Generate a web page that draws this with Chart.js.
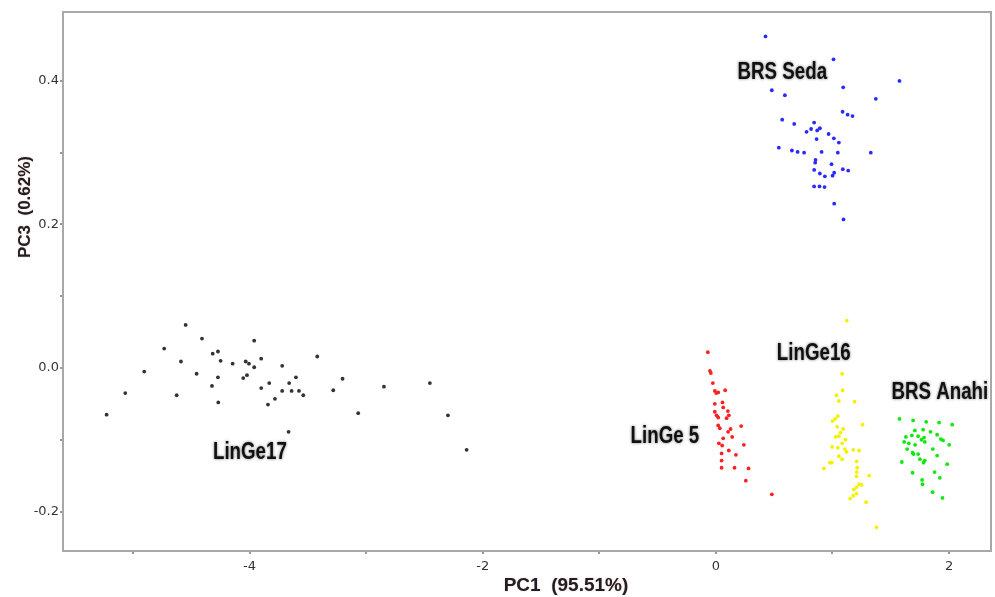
<!DOCTYPE html>
<html>
<head>
<meta charset="utf-8">
<script src="https://cdn.jsdelivr.net/npm/chart.js@4.4.1/dist/chart.umd.min.js"></script>
<style>
  html, body { margin: 0; padding: 0; background: #fff; }
  #pca { display: block; }
</style>
</head>
<body>
<canvas id="pca" width="995" height="597"></canvas>
<script>
// --- DATA (PC1, PC3 scores) ---
const linGe17 = [
  [-4.548, 0.060], [-4.408, 0.041], [-4.732, 0.027], [-3.960, 0.038], [-4.316, 0.020],
  [-4.271, 0.023], [-4.588, 0.009], [-4.248, 0.010], [-4.145, 0.006], [-4.033, 0.009],
  [-4.005, 0.006], [-3.960, 0.001], [-3.900, 0.013], [-3.720, 0.003], [-3.419, 0.016],
  [-4.903, -0.005], [-4.454, -0.008], [-4.271, -0.013], [-4.054, -0.014], [-4.022, -0.010],
  [-4.322, -0.025], [-3.900, -0.028], [-3.831, -0.021], [-3.660, -0.021], [-3.602, -0.013],
  [-3.720, -0.032], [-3.639, -0.032], [-3.576, -0.032], [-3.539, -0.038], [-3.782, -0.043],
  [-3.842, -0.051], [-3.282, -0.031], [-3.202, -0.015], [-2.847, -0.026], [-2.453, -0.021],
  [-5.066, -0.035], [-4.625, -0.038], [-4.268, -0.048], [-5.226, -0.065], [-3.068, -0.063],
  [-2.298, -0.066], [-3.665, -0.089], [-2.138, -0.114]
];
const linGe5 = [
  [-0.069, 0.022], [-0.051, -0.004], [-0.043, -0.007], [-0.026, -0.021], [-0.009, -0.032],
  [0.003, -0.035], [0.020, -0.034], [0.080, -0.031], [-0.009, -0.050], [0.057, -0.048],
  [-0.009, -0.061], [0.006, -0.066], [0.020, -0.069], [0.063, -0.055], [0.103, -0.060],
  [0.111, -0.066], [0.092, -0.070], [0.020, -0.080], [0.034, -0.084], [0.126, -0.085],
  [0.105, -0.089], [0.217, -0.081], [0.063, -0.098], [0.140, -0.096], [0.026, -0.105],
  [0.054, -0.108], [0.240, -0.107], [0.049, -0.119], [0.111, -0.115], [0.172, -0.121],
  [0.049, -0.129], [0.049, -0.139], [0.160, -0.139], [0.280, -0.140], [0.257, -0.157],
  [0.480, -0.176]
];
const linGe16 = [
  [1.123, 0.066], [1.083, -0.008], [1.087, -0.031], [1.035, -0.038], [1.055, -0.046],
  [1.190, -0.047], [1.046, -0.067], [1.023, -0.071], [1.001, -0.074], [1.258, -0.079],
  [1.040, -0.082], [1.092, -0.085], [1.069, -0.090], [1.055, -0.095], [1.027, -0.096],
  [1.112, -0.100], [1.083, -0.105], [0.997, -0.110], [1.046, -0.111], [1.106, -0.113],
  [1.121, -0.117], [1.178, -0.114], [1.229, -0.115], [1.055, -0.123], [1.083, -0.127],
  [0.995, -0.132], [0.978, -0.132], [1.207, -0.130], [1.212, -0.139], [1.209, -0.145],
  [1.207, -0.151], [0.926, -0.140], [1.315, -0.150], [1.229, -0.162], [1.250, -0.163],
  [1.207, -0.166], [1.184, -0.169], [1.207, -0.175], [1.178, -0.178], [1.152, -0.182],
  [1.289, -0.187], [1.378, -0.222]
];
const brsAnahi = [
  [1.575, -0.071], [1.692, -0.073], [1.804, -0.075], [1.915, -0.076], [2.027, -0.079],
  [1.707, -0.087], [1.778, -0.086], [1.841, -0.089], [1.898, -0.093], [1.630, -0.096],
  [1.681, -0.094], [1.735, -0.095], [1.786, -0.097], [1.764, -0.100], [1.792, -0.103],
  [1.930, -0.099], [1.949, -0.101], [1.615, -0.103], [1.655, -0.105], [1.709, -0.107],
  [2.001, -0.107], [1.641, -0.113], [1.861, -0.113], [1.687, -0.118], [1.696, -0.120],
  [1.735, -0.120], [1.898, -0.122], [1.750, -0.127], [1.792, -0.129], [1.781, -0.132],
  [1.595, -0.131], [1.984, -0.134], [1.687, -0.146], [1.876, -0.145], [1.921, -0.153],
  [1.769, -0.156], [1.773, -0.162], [1.859, -0.173], [1.944, -0.181]
];
const brsSeda = [
  [0.426, 0.462], [1.009, 0.430], [1.575, 0.400], [0.480, 0.387], [0.592, 0.380],
  [1.092, 0.391], [1.372, 0.375], [1.087, 0.357], [1.130, 0.353], [1.172, 0.351],
  [0.569, 0.346], [0.672, 0.340], [0.843, 0.342], [0.778, 0.329], [0.817, 0.333],
  [0.869, 0.331], [0.892, 0.334], [0.967, 0.326], [1.012, 0.320], [1.055, 0.314],
  [0.864, 0.319], [0.540, 0.307], [0.652, 0.303], [0.701, 0.301], [0.757, 0.300],
  [0.907, 0.301], [1.046, 0.300], [1.329, 0.300], [0.855, 0.290], [0.852, 0.286],
  [0.992, 0.284], [0.843, 0.276], [1.089, 0.277], [1.135, 0.275], [0.892, 0.271],
  [0.935, 0.267], [1.001, 0.268], [1.015, 0.272], [0.843, 0.253], [0.889, 0.253],
  [0.932, 0.252], [1.015, 0.229], [1.095, 0.207]
];

// group names and where their labels sit (PC1, PC3)
const groupNames = ['LinGe17', 'LinGe 5', 'LinGe16', 'BRS Anahi', 'BRS Seda'];
const labelAnchors = [[-3.997, -0.118], [-0.437, -0.095], [0.840, 0.020], [1.921, -0.034], [0.570, 0.412]];

const xTitle = 'PC1  (95.51%)';
const yTitle = 'PC3  (0.62%)';

// --- CHART ---
const toPts = arr => arr.map(p => ({ x: p[0], y: p[1] }));
const groups = [
  { data: linGe17, color: '#333333' },
  { data: linGe5, color: '#ff2020' },
  { data: linGe16, color: '#f2f200' },
  { data: brsAnahi, color: '#10e810' },
  { data: brsSeda, color: '#2a2aff' }
];

// frame around plot area + group labels + axis titles
const decorations = {
  id: 'decorations',
  afterDraw(chart) {
    const { ctx, chartArea: a, scales } = chart;
    ctx.save();
    ctx.strokeStyle = '#a8a8a8';
    ctx.lineWidth = 2;
    ctx.strokeRect(a.left, a.top, a.right - a.left, a.bottom - a.top);

    // cluster labels
    ctx.textAlign = 'center';
    ctx.textBaseline = 'middle';
    ctx.font = 'bold 24px "Liberation Sans", Arial, sans-serif';
    groupNames.forEach((name, i) => {
      const px = scales.x.getPixelForValue(labelAnchors[i][0]);
      const py = scales.y.getPixelForValue(labelAnchors[i][1]);
      ctx.save();
      ctx.translate(px, py);
      ctx.scale(0.78, 1);
      ctx.shadowColor = 'rgba(0,0,0,0.55)';
      ctx.shadowBlur = 3;
      ctx.fillStyle = '#111';
      ctx.fillText(name, 0, 0);
      ctx.restore();
    });

    // axis titles
    ctx.fillStyle = '#1d1d2e';
    ctx.shadowColor = 'rgba(210,120,40,0.55)';
    ctx.shadowBlur = 1.5;
    ctx.font = 'bold 19px "Liberation Sans", Arial, sans-serif';
    ctx.fillText(xTitle, a.left + 503, 586);
    ctx.save();
    ctx.translate(25, a.top + 195);
    ctx.rotate(-Math.PI / 2);
    ctx.font = 'bold 17px "Liberation Sans", Arial, sans-serif';
    ctx.fillText(yTitle, 0, 0);
    ctx.restore();
    ctx.restore();
  }
};

const ctx = document.getElementById('pca').getContext('2d');
new Chart(ctx, {
  type: 'scatter',
  data: {
    datasets: groups.map((g, i) => ({
      label: groupNames[i],
      data: toPts(g.data),
      backgroundColor: g.color,
      borderWidth: 0,
      pointRadius: 1.9,
      pointHoverRadius: 1.9
    }))
  },
  options: {
    responsive: false,
    animation: false,
    layout: { padding: { top: 12, right: 4, left: 0, bottom: 0 } },
    plugins: { legend: { display: false }, tooltip: { enabled: false } },
    scales: {
      x: {
        type: 'linear',
        min: -5.6,
        max: 2.36,
        afterFit: s => { s.height = 46; },
        border: { display: false },
        grid: { drawOnChartArea: false, drawTicks: true, tickLength: 3, color: '#999', lineWidth: 2 },
        ticks: {
          stepSize: 1,
          includeBounds: false,
          autoSkip: false,
          maxRotation: 0,
          padding: 5,
          color: '#333',
          font: { family: '"DejaVu Sans", sans-serif', size: 13 },
          callback: v => (Math.round(v) % 2 === 0 ? String(Math.round(v)) : '')
        }
      },
      y: {
        type: 'linear',
        min: -0.255,
        max: 0.496,
        afterFit: s => { s.width = 63; },
        border: { display: false },
        grid: { drawOnChartArea: false, drawTicks: true, tickLength: 3, color: '#999', lineWidth: 2 },
        ticks: {
          stepSize: 0.1,
          includeBounds: false,
          autoSkip: false,
          padding: 1,
          color: '#333',
          font: { family: '"DejaVu Sans", sans-serif', size: 13 },
          callback: v => {
            const k = Math.round(v * 10);
            return k % 2 === 0 ? (k / 10).toFixed(1) : '';
          }
        }
      }
    }
  },
  plugins: [decorations]
});
</script>
</body>
</html>
